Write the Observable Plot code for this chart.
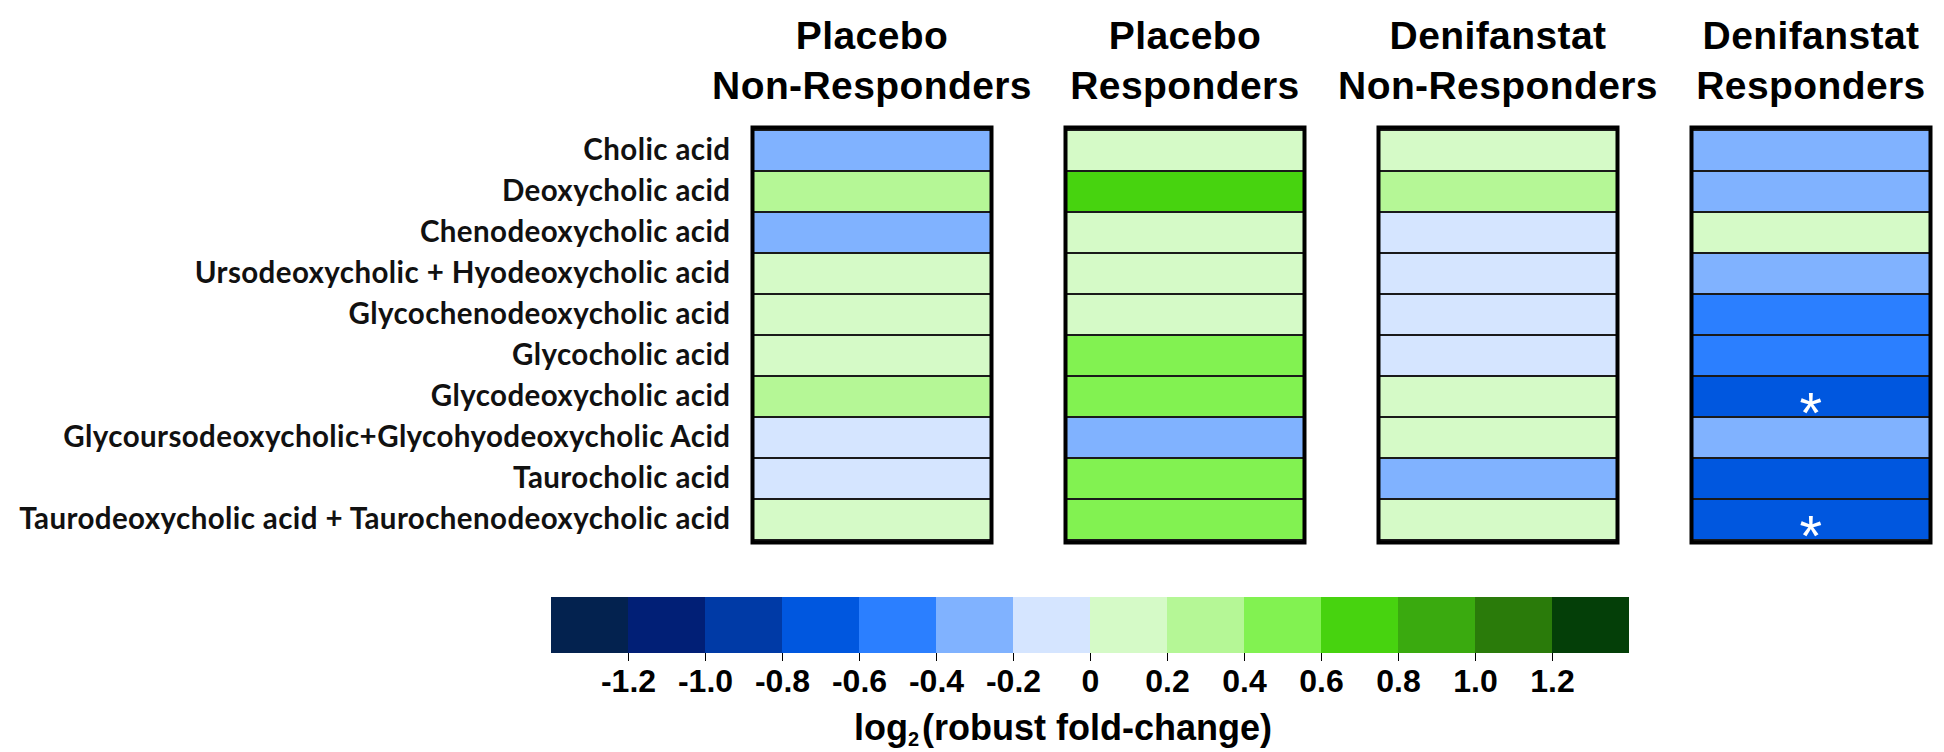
<!DOCTYPE html>
<html>
<head>
<meta charset="utf-8">
<script src="https://cdn.jsdelivr.net/npm/d3@7"></script>
<script src="https://cdn.jsdelivr.net/npm/@observablehq/plot@0.6"></script>
<style>
  html, body { margin: 0; padding: 0; background: #fff; }
  body { width: 1944px; height: 752px; position: relative; overflow: hidden; }
  svg { display: block; }
  #title {
    position: absolute; left: 563px; width: 1000px; top: 708px;
    text-align: center; font-family: "Liberation Sans", Arial, sans-serif;
    font-weight: bold; font-size: 36px; line-height: 40px; color: #000;
  }
  #title sub { font-size: 20px; vertical-align: -6px; line-height: 0; margin-right: 3px; }
</style>
</head>
<body>
<div id="main"></div>
<div id="bar"></div>
<div id="title">log<sub>2</sub>(robust fold-change)</div>
<script>
// ---- data ----
const acids = [
  "Cholic acid",
  "Deoxycholic acid",
  "Chenodeoxycholic acid",
  "Ursodeoxycholic + Hyodeoxycholic acid",
  "Glycochenodeoxycholic acid",
  "Glycocholic acid",
  "Glycodeoxycholic acid",
  "Glycoursodeoxycholic+Glycohyodeoxycholic Acid",
  "Taurocholic acid",
  "Taurodeoxycholic acid + Taurochenodeoxycholic acid"
];
const groups = ["Placebo NR", "Placebo R", "Denifanstat NR", "Denifanstat R"];
const groupHeaders = [
  "Placebo\nNon-Responders",
  "Placebo\nResponders",
  "Denifanstat\nNon-Responders",
  "Denifanstat\nResponders"
];
const placeboNonResponders   = [-0.3, 0.3, -0.3, 0.1, 0.1, 0.1, 0.3, -0.1, -0.1, 0.1];
const placeboResponders      = [0.1, 0.7, 0.1, 0.1, 0.1, 0.5, 0.5, -0.3, 0.5, 0.5];
const denifanstatNonResponders = [0.1, 0.3, -0.1, -0.1, -0.1, -0.1, 0.1, 0.1, -0.3, 0.1];
const denifanstatResponders  = [-0.3, -0.3, 0.1, -0.3, -0.5, -0.5, -0.7, -0.3, -0.7, -0.7];
const denifanstatRespondersSignificant = [false, false, false, false, false, false, true, false, false, true];

const thresholds = [-1.2, -1.0, -0.8, -0.6, -0.4, -0.2, 0, 0.2, 0.4, 0.6, 0.8, 1.0, 1.2];
const barEdges = [-1.4, -1.2, -1.0, -0.8, -0.6, -0.4, -0.2, 0, 0.2, 0.4, 0.6, 0.8, 1.0, 1.2, 1.4];
const colors = [
  "#03224f", "#011f76", "#003aa6", "#0057df", "#2b7fff", "#80b2ff", "#d5e5ff",
  "#d5fac7", "#b5f796", "#82f251", "#47d30f", "#3aaa0f", "#2a7b0a", "#043f08"
];

// ---- build table ----
const series = [placeboNonResponders, placeboResponders, denifanstatNonResponders, denifanstatResponders];
const table = [];
groups.forEach((g, gi) => {
  acids.forEach((a, ai) => {
    table.push({
      group: g, acid: a, value: series[gi][ai],
      sig: gi === 3 && denifanstatRespondersSignificant[ai]
    });
  });
});
const headerData = groups.map((g, i) => ({group: g, label: groupHeaders[i]}));
const bins = colors.map((c, i) => ({x1: barEdges[i], x2: barEdges[i + 1]}));

const colorScale = {type: "threshold", domain: thresholds, range: colors};

const main = Plot.plot({
  width: 1944,
  height: 560,
  marginTop: 127,
  marginBottom: 18,
  marginLeft: 751,
  marginRight: 14,
  style: {fontFamily: "Lato, sans-serif", fontSize: "29.5px", fontWeight: "bold", letterSpacing: "0.4px", color: "#111", background: "white", overflow: "visible"},
  fx: {domain: groups, paddingInner: 0.237, paddingOuter: 0, axis: null, label: null},
  y: {domain: acids, padding: 0, label: null, tickSize: 0, tickPadding: 22},
  color: colorScale,
  marks: [
    Plot.cell(table, {fx: "group", y: "acid", fill: "value", stroke: "#1a1a1a", strokeWidth: 2}),
    Plot.frame({stroke: "#000", strokeWidth: 4}),
    Plot.text(table.filter(d => d.sig), {
      fx: "group", y: "acid", text: () => "*", fill: "white",
      fontSize: 58, fontWeight: "normal", fontFamily: "Liberation Sans", dy: 17
    }),
    Plot.text(headerData, {
      fx: "group", text: "label", frameAnchor: "top", lineAnchor: "top",
      dy: -114, fontSize: 39, fontWeight: "bold", fontFamily: "Liberation Sans",
      lineHeight: 50 / 39, fill: "#000"
    })
  ]
});
main.querySelectorAll("text").forEach(t => {
  if (t.getAttribute("font-family") === "Liberation Sans") t.style.letterSpacing = "0px";
});
document.getElementById("main").appendChild(main);

const bar = Plot.plot({
  width: 1944,
  height: 143,
  marginTop: 37,
  marginBottom: 50,
  marginLeft: 551,
  marginRight: 315,
  style: {fontFamily: "Liberation Sans, Arial, sans-serif", fontSize: "32px", fontWeight: "bold", color: "#000", background: "white"},
  x: {domain: [barEdges[0], barEdges[barEdges.length - 1]], ticks: thresholds,
      tickFormat: d => d === 0 ? "0" : d.toFixed(1), tickSize: 8, tickPadding: 8, label: null},
  color: colorScale,
  marks: [
    Plot.rect(bins, {x1: "x1", x2: "x2", fill: d => (d.x1 + d.x2) / 2})
  ]
});
document.getElementById("bar").appendChild(bar);
</script>
</body>
</html>
